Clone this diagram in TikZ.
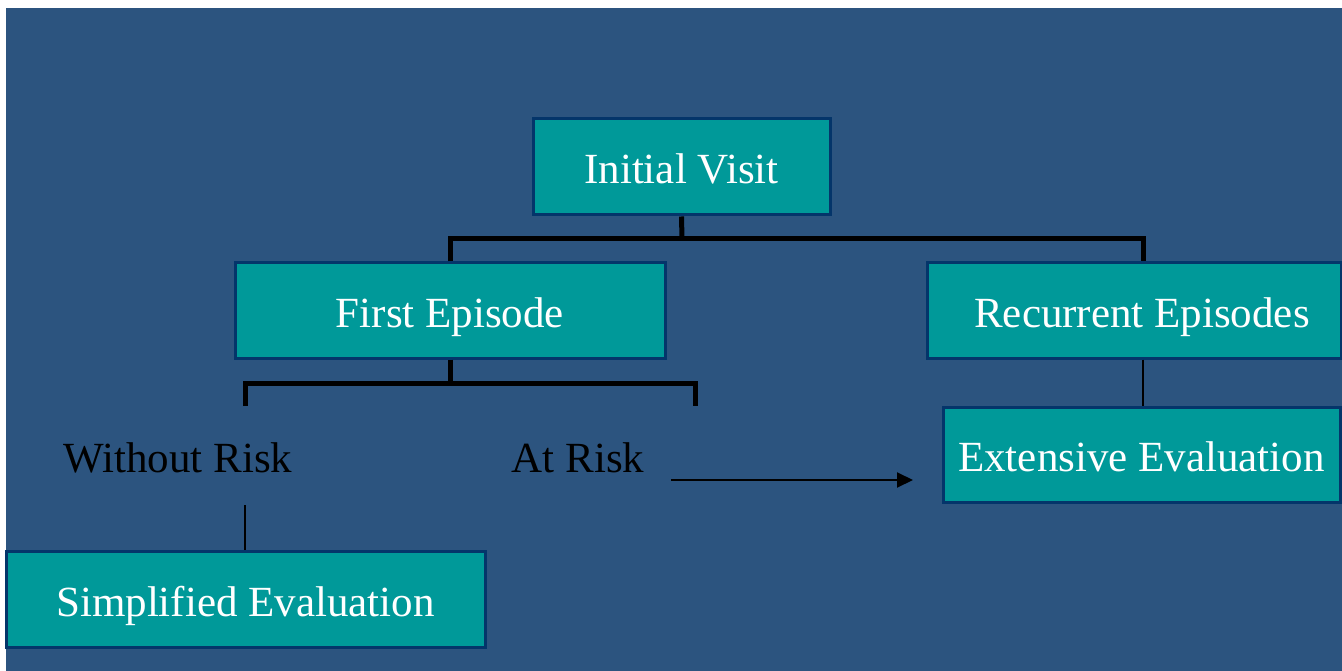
\documentclass[tikz,border=0pt]{standalone}
\usepackage{fontspec}
\setmainfont{Liberation Serif}
\usetikzlibrary{arrows.meta}
\definecolor{bgblue}{HTML}{2C547F}
\definecolor{teal1}{HTML}{009999}
\definecolor{navy1}{HTML}{04356A}
\tikzset{
  box/.style={draw=navy1, line width=3pt, fill=teal1, text=white, inner sep=0pt,
    font=\fontsize{43}{50}\selectfont, text height=38pt, text depth=4pt},
  lbl/.style={text=black, inner sep=0pt, font=\fontsize{43}{50}\selectfont},
  thick bracket/.style={line width=5pt, black},
  thin conn/.style={line width=2pt, black},
}
\begin{document}
\begin{tikzpicture}[x=1pt,y=-1pt]
\useasboundingbox (0,0) rectangle (1342,671);
\fill[bgblue] (6,8) rectangle (1342,671);
\node[box, minimum width=297pt, minimum height=96pt] (iv) at (681.5,167) {Initial Visit};
\node[box, minimum width=430pt, minimum height=95pt] (fe) at (450,310.5) {First Episode};
\node[box, minimum width=414pt, minimum height=95pt] (re) at (1134.5,310.5) {\hspace*{15pt}Recurrent Episodes};
\node[box, minimum width=397pt, minimum height=95pt] (ee) at (1141.5,454.5) {Extensive Evaluation};
\node[box, minimum width=479pt, minimum height=96pt] (se) at (245.5,599) {Simplified Evaluation};
\node[lbl] (wr) at (178,458) {Without Risk};
\node[lbl] (ar) at (578,458) {At Risk};
% top bracket
\coordinate (b1) at (682,239);
\draw[thick bracket] (iv.south) -- (b1);
\draw[thick bracket] (fe.north) |- (b1) -| (re.north -| 1143,0);
% lower bracket
\coordinate (b2) at (450,383);
\coordinate (wl) at (245,406);
\coordinate (al) at (695,406);
\draw[thick bracket] (fe.south) -- (b2);
\draw[thick bracket] (wl) |- (b2) -| (al);
% thin connectors
\coordinate (wrl) at (245,505);
\draw[thin conn] (wrl) -- (se.north -| wrl);
\draw[thin conn] (re.south -| 1143,0) -- (ee.north -| 1143,0);
\coordinate (as) at (671,480);
\coordinate (ae) at (913,480);
\draw[thin conn, -{Triangle[length=16pt,width=15pt]}] (as) -- (ae);
\end{tikzpicture}
\end{document}
